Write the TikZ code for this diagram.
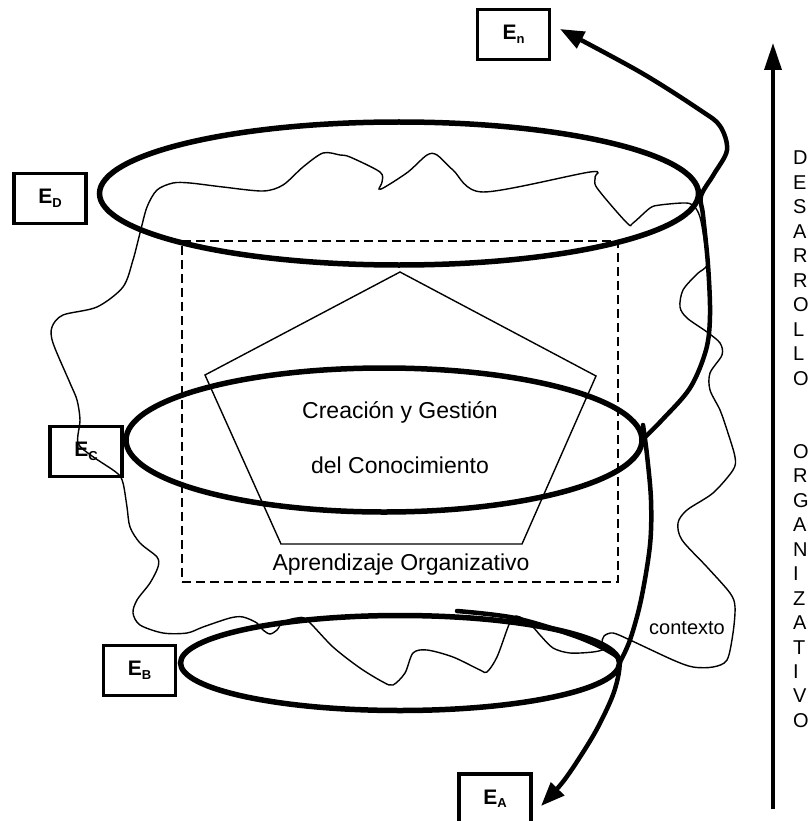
\documentclass[tikz,border=0pt]{standalone}
\usepackage{fontspec}
\setmainfont{Liberation Sans}
\usetikzlibrary{shapes.geometric, arrows.meta}

% stage label: bold E with a small subscript letter
\newcommand\stagelbl[1]{E\raisebox{-3.5pt}{\fontsize{13}{14}\selectfont #1}}

\begin{document}
\begin{tikzpicture}[x=1pt, y=-1pt,
  stagebox/.style={draw, line width=3.2pt, minimum width=72pt, minimum height=50pt,
    inner sep=0pt, font=\fontsize{21}{24}\selectfont\bfseries},
  levelring/.style={draw, ellipse, line width=5.5pt, inner sep=0pt, outer sep=0pt},
  spiralline/.style={line width=4.5pt, line cap=round},
  spiralhead/.style={-{Triangle[length=24pt, width=18pt]}},
  thinline/.style={line width=1.4pt},
  maintext/.style={font=\fontsize{23}{28}\selectfont, inner sep=0pt, anchor=base},
  smalltext/.style={font=\fontsize{20}{24}\selectfont, inner sep=0pt},
]
\useasboundingbox (0,0) rectangle (809,821);

% context boundary (irregular closed curve)
\draw[thinline] plot[smooth cycle, tension=0.5] coordinates {
  (173,183) (190,183) (223,187) (263,191) (283,185) (303,167) (323,153) (340,155)
  (350,157) (380,172) (382,182) (379,189) (385,187) (408,172) (427,155) (437,155)
  (453,170) (483,192) (590,172) (595,177) (597,188) (627,223) (633,223) (650,208)
  (660,205) (683,203) (693,205) (700,217) (705,245) (707,265) (697,274) (683,290)
  (680,307) (687,318) (707,332) (720,343) (722,355) (710,373) (710,390) (720,410)
  (727,430) (735,457) (733,470) (713,493) (687,510) (678,523) (682,540) (707,567)
  (730,593) (735,607) (733,633) (727,660) (713,667) (693,667) (673,660) (630,640)
  (613,633) (604,636) (602,643) (604,649) (593,652) (570,653) (553,648) (540,635)
  (533,627) (520,617) (513,617) (508,627) (497,657) (487,672) (480,670) (453,657)
  (427,650) (413,653) (405,673) (393,685) (383,682) (360,668) (333,647) (307,620)
  (297,618) (283,622) (277,630) (270,634) (263,630) (257,623) (243,617) (230,618)
  (203,627) (187,633) (163,633) (140,625) (133,613) (137,600) (150,583) (158,567)
  (157,557) (140,543) (130,527) (127,507) (123,483) (117,473) (92,456) (78,443)
  (80,420) (77,400) (70,383) (53,343) (52,327) (63,315) (97,307) (123,287)
  (133,260) (140,233) (147,207) (157,190)};

% organisational learning frame and knowledge pentagon
\node[draw, dash pattern=on 9pt off 5pt, line width=2.2pt, minimum width=436pt,
  minimum height=341pt, inner sep=0pt] (frame) at (400,411.5) {};
\draw[thinline] (400,272) -- (596,376) -- (522,544) -- (281,544) -- (205,375) -- cycle;

% levels
\node[levelring, minimum width=599pt, minimum height=143pt] (ringD) at (399,193.5) {};
\node[levelring, minimum width=516pt, minimum height=144pt] (ringC) at (384,440) {};
\node[levelring, minimum width=439pt, minimum height=95pt]  (ringB) at (400,663) {};

% texts
\node[maintext] (cg1) at (400,418) {Creación y Gestión};
\node[maintext] (cg2) at (400,473) {del Conocimiento};
\node[maintext] (ao)  at (401,570) {Aprendizaje Organizativo};
\node[smalltext, anchor=base] (ctx) at (687,634) {contexto};

% stage boxes
\node[stagebox] (en) at (513.5,34.5) {\stagelbl{n}};
\node[stagebox] (ed) at (50,198.5)   {\stagelbl{D}};
\node[stagebox] (ec) at (86,451.5)   {\stagelbl{C}};
\node[stagebox] (eb) at (139.5,670.5) {\stagelbl{B}};
\node[stagebox] (ea) at (495,799)    {\stagelbl{A}};

% spiral of development
\draw[spiralline, spiralhead] plot[smooth, tension=0.55] coordinates {
  (ringC.east) (662,420) (690,388) (706,350) (710,315) (708,265) (703,215)
  (701,196) (714,174) (727,150) (720,126) (700,110) (640,72) (560,29)};
\draw[spiralline] plot[smooth, tension=0.55] coordinates {
  (643,425) (647,455) (651,500) (650,545) (641,600) (630,640) (ringB.east)};
\draw[spiralline, spiralhead] plot[smooth, tension=0.55] coordinates {
  (457,611) (515,618) (575,636) (610,652) (ringB.east) (614,692) (598,727)
  (580,757) (562,783) (541,806)};

% vertical axis of organisational development
\coordinate (axisbot) at (773,809);
\coordinate (axistop) at (773,43);
\draw[line width=3.5pt, -{Triangle[length=27pt, width=17pt]}] (axisbot) -- (axistop);
\foreach \ch [count=\i from 0] in {D,E,S,A,R,R,O,L,L,O}
  \node[smalltext, anchor=base west] (va\i) at (793,165+24.45*\i) {\ch};
\foreach \ch [count=\i from 12] in {O,R,G,A,N,I,Z,A,T,I,V,O}
  \node[smalltext, anchor=base west] (vb\i) at (793,165+24.45*\i) {\ch};
\end{tikzpicture}
\end{document}
